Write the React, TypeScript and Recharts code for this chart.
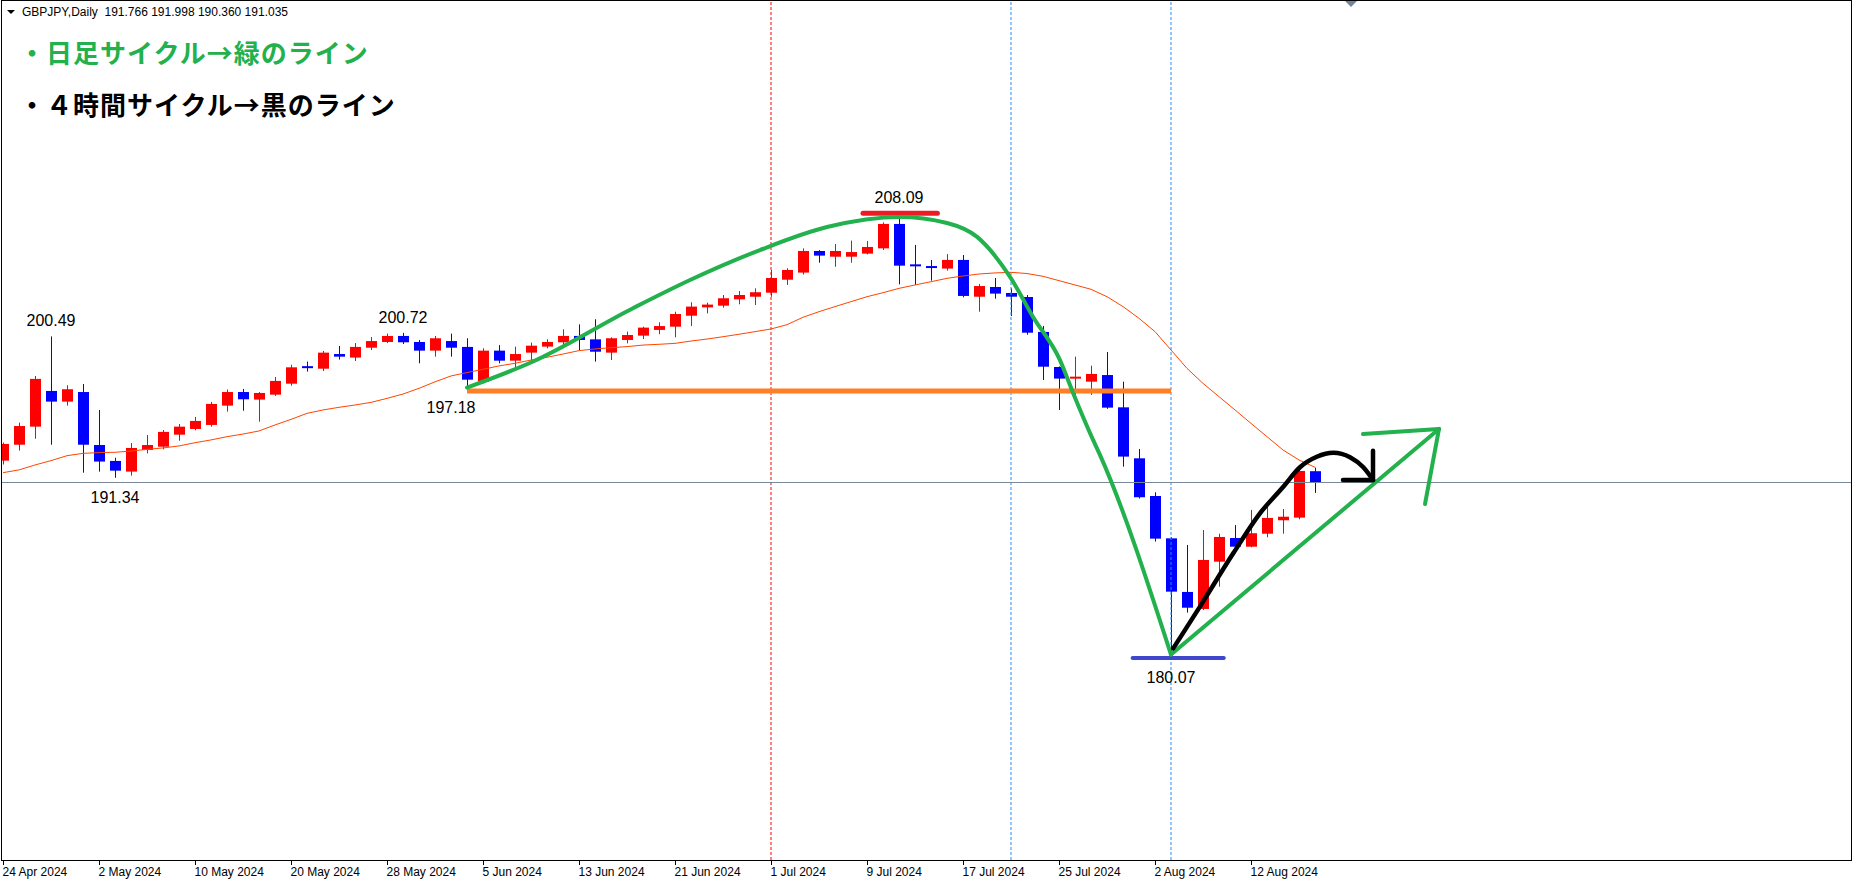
import React from 'react';
import { ComposedChart, Bar, Line, XAxis, YAxis, ReferenceLine, ReferenceDot } from 'recharts';

// GBPJPY daily, 24 Apr 2024 .. 16 Aug 2024 (bar index 0..82)
const opens = [
  192.45, 193.48, 194.65, 196.96, 196.27, 196.89, 193.46, 192.43, 191.74, 193.14,
  193.35, 194.13, 194.50, 194.76, 196.01, 196.89, 196.40, 196.72, 197.43, 198.50,
  198.40, 199.35, 199.12, 199.76, 200.13, 200.52, 200.13, 199.57, 200.19, 199.81,
  197.56, 199.57, 198.92, 199.44, 199.83, 200.11, 200.52, 200.30, 199.44, 200.26,
  200.54, 200.91, 201.12, 201.83, 202.37, 202.48, 202.89, 203.06, 203.32, 204.16,
  204.62, 206.02, 205.65, 205.65, 205.85, 206.19, 207.77, 205.09, 204.98, 204.88,
  205.44, 203.06, 203.69, 203.30, 203.04, 200.78, 198.51, 197.71, 197.56, 197.99,
  195.90, 192.60, 190.16, 187.42, 183.95, 182.85, 185.91, 187.44, 186.88, 187.72,
  188.59, 188.76, 191.766,
];
const highs = [
  193.62, 194.91, 197.93, 200.49, 197.33, 197.41, 195.73, 192.64, 193.59, 194.11,
  194.43, 194.82, 195.28, 196.25, 197.05, 197.09, 196.89, 197.86, 198.66, 198.86,
  199.55, 199.87, 200.06, 200.45, 200.67, 200.72, 200.26, 200.52, 200.67, 200.37,
  199.72, 199.93, 199.83, 200.09, 200.30, 200.95, 201.27, 201.60, 200.43, 200.80,
  201.12, 201.40, 202.09, 202.70, 202.67, 203.17, 203.43, 203.60, 204.79, 204.90,
  206.19, 206.08, 206.47, 206.69, 206.67, 207.87, 208.09, 206.41, 205.44, 205.82,
  205.76, 203.88, 204.27, 203.60, 203.17, 201.17, 198.55, 199.18, 198.60, 199.48,
  197.56, 193.20, 190.40, 187.50, 186.99, 187.96, 187.72, 188.28, 189.26, 189.47,
  189.32, 192.00, 191.998,
];
const lows = [
  192.20, 193.10, 193.87, 193.48, 196.01, 191.67, 191.74, 191.34, 191.48, 192.92,
  193.18, 193.74, 194.41, 194.65, 195.62, 195.68, 194.97, 196.64, 197.30, 198.21,
  198.25, 198.99, 198.90, 199.61, 200.06, 200.00, 198.75, 199.18, 199.18, 197.18,
  197.45, 198.75, 198.32, 198.86, 199.72, 199.91, 199.61, 198.86, 198.96, 200.04,
  200.32, 200.63, 200.43, 201.16, 201.98, 202.35, 202.57, 202.52, 203.06, 203.82,
  204.50, 205.26, 205.00, 205.26, 205.80, 206.08, 203.86, 203.82, 204.10, 204.75,
  203.02, 202.09, 202.93, 201.81, 200.60, 197.67, 195.73, 196.46, 196.70, 195.80,
  192.06, 190.00, 187.21, 180.07, 182.61, 182.78, 184.29, 186.45, 186.84, 187.49,
  187.72, 188.65, 190.360,
];
const closes = [
  193.53, 194.69, 197.74, 196.27, 197.07, 193.48, 192.39, 191.80, 193.27, 193.46,
  194.31, 194.65, 195.02, 196.12, 196.89, 196.42, 196.83, 197.61, 198.49, 198.47,
  199.44, 199.18, 199.81, 200.19, 200.52, 200.11, 199.57, 200.37, 199.76, 197.69,
  199.57, 198.92, 199.35, 199.89, 200.13, 200.52, 200.26, 199.50, 200.37, 200.58,
  201.06, 201.16, 201.94, 202.42, 202.55, 202.96, 203.17, 203.35, 204.27, 204.79,
  206.02, 205.72, 206.02, 205.95, 206.28, 207.77, 205.07, 205.03, 204.90, 205.44,
  203.11, 203.75, 203.26, 203.06, 200.73, 198.53, 197.76, 197.82, 198.06, 195.88,
  192.71, 190.08, 187.40, 183.97, 182.93, 186.02, 187.51, 186.88, 187.75, 188.74,
  188.82, 191.78, 191.035,
];
const maValues = [
  191.67, 191.85, 192.17, 192.45, 192.77, 192.92, 192.97, 192.99, 193.07, 193.18,
  193.27, 193.40, 193.61, 193.79, 194.00, 194.17, 194.37, 194.76, 195.12, 195.51,
  195.73, 195.90, 196.05, 196.22, 196.48, 196.76, 197.13, 197.55, 197.93, 198.15,
  198.36, 198.58, 198.75, 198.96, 199.14, 199.35, 199.57, 199.68, 199.76, 199.83,
  199.93, 199.98, 200.04, 200.19, 200.32, 200.47, 200.63, 200.80, 200.97, 201.25,
  201.73, 202.09, 202.42, 202.74, 203.06, 203.32, 203.60, 203.82, 204.03, 204.25,
  204.40, 204.53, 204.60, 204.64, 204.56, 204.38, 204.10, 203.82, 203.54, 203.06,
  202.42, 201.66, 200.80, 199.61, 198.42, 197.45, 196.59, 195.73, 194.86, 194.00,
  193.14, 192.49, 192.02,
];

const tickIdx = [0, 6, 12, 18, 24, 30, 36, 42, 48, 54, 60, 66, 72, 78];
const tickLabels = [
  '24 Apr 2024', '2 May 2024', '10 May 2024', '20 May 2024', '28 May 2024', '5 Jun 2024', '13 Jun 2024',
  '21 Jun 2024', '1 Jul 2024', '9 Jul 2024', '17 Jul 2024', '25 Jul 2024', '2 Aug 2024', '12 Aug 2024',
];

const header = 'GBPJPY,Daily  191.766 191.998 190.360 191.035';
const bidPrice = 191.035;
const titleGreen = '・日足サイクル→緑のライン';
const titleBlack = '・４時間サイクル→黒のライン';

// swing labels: bar index, price shown, price the label hangs from, high or low
const swingIdx = [3, 25, 28, 7, 56, 73];
const swingPrice = [200.49, 200.72, 197.18, 191.34, 208.09, 180.07];
const swingAnchor = [200.49, 200.72, 197.18, 191.34, 208.46, 179.68];
const swingIsHigh = [true, true, false, false, true, false];

// vertical marker lines (bar index)
const redMarks = [48];
const blueMarks = [63, 73];

// hand-drawn annotations, in (bar index, price)
const greenCycle = [
  { i: 29, p: 197.18 }, { i: 33.1, p: 198.85 }, { i: 39.4, p: 202.33 }, { i: 42.94, p: 204.14 },
  { i: 47.31, p: 206.08 }, { i: 51.5, p: 207.57 }, { i: 56.06, p: 208.22 }, { i: 59.0, p: 207.83 },
  { i: 60.88, p: 206.93 }, { i: 62.94, p: 204.34 }, { i: 64.38, p: 201.75 }, { i: 66.06, p: 198.96 },
  { i: 66.88, p: 196.83 }, { i: 68.13, p: 193.79 }, { i: 68.56, p: 192.82 }, { i: 73, p: 179.9 },
];
const greenRise = [{ i: 73, p: 179.9 }, { i: 89.75, p: 194.5 }];
const greenHead1 = [{ i: 85.0, p: 194.17 }, { i: 89.75, p: 194.5 }];
const greenHead2 = [{ i: 88.875, p: 189.64 }, { i: 89.75, p: 194.5 }];
const blackCycle = [
  { i: 73.14, p: 180.3 }, { i: 74.81, p: 183.0 }, { i: 76.89, p: 186.45 }, { i: 78.56, p: 189.04 },
  { i: 80.02, p: 190.76 }, { i: 81.06, p: 192.02 }, { i: 82.11, p: 192.7 }, { i: 83.14, p: 192.96 },
  { i: 84.19, p: 192.67 }, { i: 85.02, p: 192.02 }, { i: 85.625, p: 191.2 },
];
const blackHeadV = [{ i: 85.625, p: 193.09 }, { i: 85.625, p: 191.2 }];
const blackHeadH = [{ i: 83.75, p: 191.2 }, { i: 85.625, p: 191.2 }];

const orangeLevel = { from: 29, to: 73, p: 196.96 };
const redLevel = { from: 53.75, to: 58.4, p: 208.46 };
const blueLevel = { from: 70.6, to: 76.3, p: 179.68 };
const shiftMarkIdx = 84.25;

const rows = opens.map((o, i) => ({ i, o, h: highs[i], l: lows[i], c: closes[i], ma: maValues[i] }));

const Candle = (props: any) => {
  const { x, y, width, height, payload } = props;
  if (!payload) return null;
  const { o, h, l, c } = payload;
  const yTop = Math.min(y, y + height);
  const yBot = Math.max(y, y + height);
  const span = h - l;
  const py = (p: number) => (span > 0 ? yTop + ((h - p) / span) * (yBot - yTop) : yTop);
  const cx = Math.round(x + width / 2) + 0.5;
  const color = c >= o ? '#ff0000' : '#0000ff';
  const top = py(Math.max(o, c));
  const bot = py(Math.min(o, c));
  return (
    <g>
      <line x1={cx} x2={cx} y1={yTop} y2={yBot} stroke={color} strokeWidth={1} />
      {bot - top < 2 ? (
        <rect x={cx - 5.5} y={top - 1} width={11} height={2} fill={color} />
      ) : (
        <rect x={cx - 5.5} y={top} width={11} height={bot - top} fill={color} />
      )}
    </g>
  );
};

const DateTick = (props: any) => {
  const { x, y, payload } = props;
  const k = tickIdx.indexOf(payload.value);
  const tx = Math.round(x) + 0.5;
  return (
    <g>
      <line x1={tx} x2={tx} y1={y} y2={y + 5} stroke="#000" />
      <text x={tx - 1} y={y + 16} fontSize={12} fontFamily="'Liberation Sans', Arial, sans-serif" fill="#000">
        {k >= 0 ? tickLabels[k] : ''}
      </text>
    </g>
  );
};

const SwingLabel = (high: boolean, text: string) => (props: any) => (
  <text
    x={props.cx}
    y={high ? props.cy - 10 : props.cy + 25}
    textAnchor="middle"
    fontSize={16}
    fontFamily="'Liberation Sans', Arial, sans-serif"
    fill="#000"
  >
    {text}
  </text>
);

const ShiftMark = (props: any) => (
  <polygon points={`${props.cx - 6},${props.cy + 1} ${props.cx + 6},${props.cy + 1} ${props.cx},${props.cy + 7}`} fill="#71869b" />
);

const annoLine = (data: { i: number; p: number }[], color: string, w: number, curve: boolean, key: string) => (
  <Line
    key={key}
    data={data}
    dataKey="p"
    type={curve ? 'monotone' : 'linear'}
    stroke={color}
    strokeWidth={w}
    strokeLinecap="round"
    strokeLinejoin="round"
    dot={false}
    activeDot={false}
    isAnimationActive={false}
  />
);

const GREEN = '#22b14c';

const titleStyle: React.CSSProperties = {
  position: 'absolute',
  left: 19,
  fontFamily: "'Noto Sans CJK JP', sans-serif",
  fontWeight: 700,
  fontSize: 26,
  lineHeight: '32px',
  letterSpacing: 1,
  whiteSpace: 'nowrap',
};

export default function App() {
  const yDomain: [number, number] = [166.6, 222.265];
  return (
    <div style={{ position: 'relative', width: 1853, height: 882, background: '#fff', overflow: 'hidden' }}>
      <style>{'body{margin:0}'}</style>
      <ComposedChart width={1853} height={882} data={rows} margin={{ top: 0, right: 1, bottom: 0, left: 2 }}>
        <XAxis
          type="number"
          dataKey="i"
          domain={[-0.0625, 115.5625]}
          allowDataOverflow
          ticks={tickIdx}
          interval={0}
          tick={<DateTick />}
          tickLine={false}
          axisLine={false}
          tickSize={0}
          tickMargin={0}
          height={22}
        />
        <YAxis type="number" domain={yDomain} allowDataOverflow hide />
        {redMarks.map((m) => (
          <ReferenceLine key={`r${m}`} x={m} stroke="#ff0000" strokeDasharray="3 2" />
        ))}
        {blueMarks.map((m) => (
          <ReferenceLine key={`b${m}`} x={m} stroke="#1e90ff" strokeDasharray="3 2" />
        ))}
        <ReferenceLine y={bidPrice} stroke="#778899" />
        <Bar dataKey={(d: any) => [d.l, d.h]} barSize={11} shape={<Candle />} isAnimationActive={false} />
        <Line dataKey="ma" type="linear" stroke="#ff4500" strokeWidth={1} dot={false} activeDot={false} isAnimationActive={false} />
        <ReferenceLine
          segment={[{ x: orangeLevel.from, y: orangeLevel.p }, { x: orangeLevel.to, y: orangeLevel.p }]}
          stroke="#ff7f27"
          strokeWidth={5}
        />
        <ReferenceLine
          segment={[{ x: redLevel.from, y: redLevel.p }, { x: redLevel.to, y: redLevel.p }]}
          stroke="#ed1c24"
          strokeWidth={5}
          strokeLinecap="round"
        />
        <ReferenceLine
          segment={[{ x: blueLevel.from, y: blueLevel.p }, { x: blueLevel.to, y: blueLevel.p }]}
          stroke="#3f48cc"
          strokeWidth={4}
          strokeLinecap="round"
        />
        {annoLine(greenCycle, GREEN, 4, true, 'gc')}
        {annoLine(greenRise, GREEN, 4, false, 'gr')}
        {annoLine(greenHead1, GREEN, 4, false, 'gh1')}
        {annoLine(greenHead2, GREEN, 4, false, 'gh2')}
        {annoLine(blackCycle, '#000', 4.5, true, 'bc')}
        {annoLine(blackHeadV, '#000', 4.5, false, 'bhv')}
        {annoLine(blackHeadH, '#000', 4.5, false, 'bhh')}
        {swingIdx.map((bi, k) => (
          <ReferenceDot
            key={`s${k}`}
            x={bi}
            y={swingAnchor[k]}
            r={0}
            shape={SwingLabel(swingIsHigh[k], swingPrice[k].toFixed(2))}
          />
        ))}
        <ReferenceDot x={shiftMarkIdx} y={yDomain[1]} r={0} shape={ShiftMark} />
      </ComposedChart>
      <div
        style={{
          position: 'absolute',
          left: 1,
          top: 0,
          width: 1851,
          height: 861,
          boxSizing: 'border-box',
          border: '1px solid #000',
          pointerEvents: 'none',
        }}
      />
      <svg style={{ position: 'absolute', left: 0, top: 0 }} width={320} height={24}>
        <polygon points="7,10 15,10 11,14" fill="#000" />
        <text x={22} y={16} fontSize={12} fontFamily="'Liberation Sans', Arial, sans-serif" fill="#000" style={{ whiteSpace: 'pre' }}>
          {header}
        </text>
      </svg>
      <div style={{ ...titleStyle, top: 36, color: GREEN }}>{titleGreen}</div>
      <div style={{ ...titleStyle, top: 88, color: '#000' }}>{titleBlack}</div>
    </div>
  );
}
